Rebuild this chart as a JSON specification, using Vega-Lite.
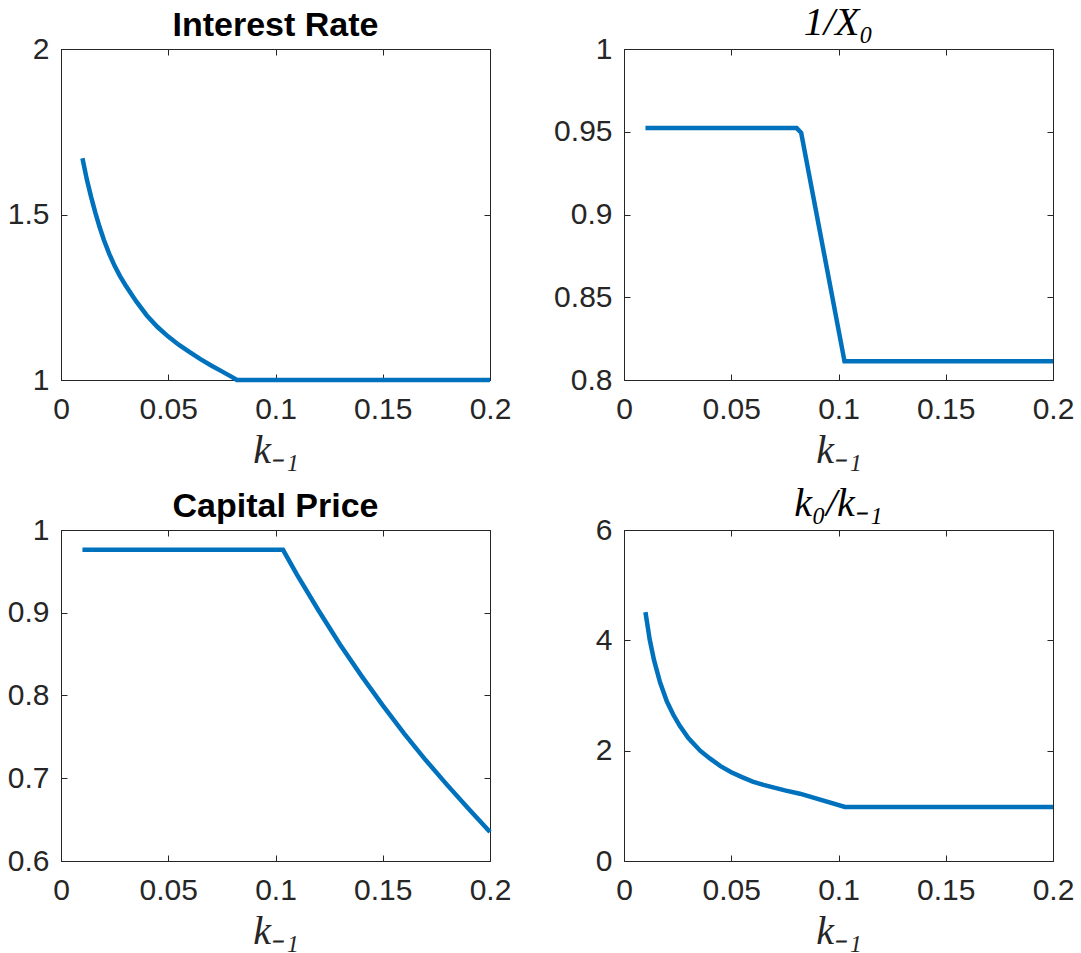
{
  "$schema": "https://vega.github.io/schema/vega-lite/v6.json",
  "background": "white",
  "padding": {"left": 6, "top": 2, "right": 5, "bottom": 5},
  "datasets": {
    "rate": [
      {"k": 0.010, "v": 1.670}, {"k": 0.012, "v": 1.607}, {"k": 0.014, "v": 1.554},
      {"k": 0.016, "v": 1.506}, {"k": 0.018, "v": 1.462}, {"k": 0.020, "v": 1.423},
      {"k": 0.0225, "v": 1.381}, {"k": 0.025, "v": 1.345}, {"k": 0.0275, "v": 1.314},
      {"k": 0.030, "v": 1.287}, {"k": 0.035, "v": 1.238}, {"k": 0.040, "v": 1.195},
      {"k": 0.045, "v": 1.160}, {"k": 0.050, "v": 1.131}, {"k": 0.055, "v": 1.106},
      {"k": 0.060, "v": 1.084}, {"k": 0.065, "v": 1.063}, {"k": 0.070, "v": 1.044},
      {"k": 0.075, "v": 1.026}, {"k": 0.080, "v": 1.008}, {"k": 0.082, "v": 1.000},
      {"k": 0.120, "v": 1.000}, {"k": 0.160, "v": 1.000}, {"k": 0.200, "v": 1.000}
    ],
    "invx": [
      {"k": 0.010, "v": 0.9522}, {"k": 0.040, "v": 0.9522}, {"k": 0.0805, "v": 0.9522},
      {"k": 0.0826, "v": 0.9494}, {"k": 0.1028, "v": 0.8113}, {"k": 0.150, "v": 0.8113},
      {"k": 0.200, "v": 0.8113}
    ],
    "price": [
      {"k": 0.010, "v": 0.976}, {"k": 0.050, "v": 0.976}, {"k": 0.1035, "v": 0.976},
      {"k": 0.110, "v": 0.946}, {"k": 0.120, "v": 0.903}, {"k": 0.130, "v": 0.862},
      {"k": 0.140, "v": 0.824}, {"k": 0.150, "v": 0.788}, {"k": 0.160, "v": 0.754},
      {"k": 0.170, "v": 0.722}, {"k": 0.180, "v": 0.692}, {"k": 0.190, "v": 0.663},
      {"k": 0.200, "v": 0.635}
    ],
    "kratio": [
      {"k": 0.010, "v": 4.51}, {"k": 0.012, "v": 4.01}, {"k": 0.014, "v": 3.64},
      {"k": 0.0168, "v": 3.24}, {"k": 0.020, "v": 2.89}, {"k": 0.023, "v": 2.65},
      {"k": 0.026, "v": 2.45}, {"k": 0.030, "v": 2.23}, {"k": 0.0355, "v": 2.00},
      {"k": 0.040, "v": 1.86}, {"k": 0.045, "v": 1.72}, {"k": 0.050, "v": 1.61},
      {"k": 0.055, "v": 1.52}, {"k": 0.060, "v": 1.44}, {"k": 0.065, "v": 1.38},
      {"k": 0.070, "v": 1.33}, {"k": 0.075, "v": 1.28}, {"k": 0.082, "v": 1.22},
      {"k": 0.103, "v": 0.98}, {"k": 0.150, "v": 0.98}, {"k": 0.200, "v": 0.98}
    ]
  },
  "columns": 2,
  "spacing": {"row": 150, "column": 134},
  "bounds": "flush",
  "concat": [
    {
      "title": {"text": "Interest Rate"},
      "width": 429, "height": 331,
      "data": {"name": "rate"},
      "layer": [
        {
          "mark": {"type": "line", "opacity": 0},
          "encoding": {
            "x": {"field": "k", "type": "quantitative", "scale": {"domain": [0, 0.2]},
                  "axis": {"orient": "top", "values": [0, 0.05, 0.1, 0.15, 0.2], "labels": false, "title": null}},
            "y": {"field": "v", "type": "quantitative", "scale": {"domain": [1, 2]},
                  "axis": {"orient": "right", "values": [1, 1.5, 2], "labels": false, "title": null}}
          }
        },
        {
          "mark": {"type": "line", "color": "#0072BD", "strokeWidth": 4.5},
          "encoding": {
            "x": {"field": "k", "type": "quantitative", "scale": {"domain": [0, 0.2]},
                  "axis": {"orient": "bottom", "values": [0, 0.05, 0.1, 0.15, 0.2], "format": "~g", "title": "k₋₁", "labelPadding": 20}},
            "y": {"field": "v", "type": "quantitative", "scale": {"domain": [1, 2]},
                  "axis": {"orient": "left", "values": [1, 1.5, 2], "format": "~g", "title": null}}
          }
        }
      ],
      "resolve": {"axis": {"x": "independent", "y": "independent"}}
    },
    {
      "title": {"text": "1/X₀", "font": "Liberation Serif", "fontStyle": "italic", "fontWeight": "normal", "fontSize": 40},
      "width": 429, "height": 331,
      "data": {"name": "invx"},
      "layer": [
        {
          "mark": {"type": "line", "opacity": 0},
          "encoding": {
            "x": {"field": "k", "type": "quantitative", "scale": {"domain": [0, 0.2]},
                  "axis": {"orient": "top", "values": [0, 0.05, 0.1, 0.15, 0.2], "labels": false, "title": null}},
            "y": {"field": "v", "type": "quantitative", "scale": {"domain": [0.8, 1]},
                  "axis": {"orient": "right", "values": [0.8, 0.85, 0.9, 0.95, 1], "labels": false, "title": null}}
          }
        },
        {
          "mark": {"type": "line", "color": "#0072BD", "strokeWidth": 4.5},
          "encoding": {
            "x": {"field": "k", "type": "quantitative", "scale": {"domain": [0, 0.2]},
                  "axis": {"orient": "bottom", "values": [0, 0.05, 0.1, 0.15, 0.2], "format": "~g", "title": "k₋₁", "labelPadding": 20}},
            "y": {"field": "v", "type": "quantitative", "scale": {"domain": [0.8, 1]},
                  "axis": {"orient": "left", "values": [0.8, 0.85, 0.9, 0.95, 1], "format": "~g", "title": null}}
          }
        }
      ],
      "resolve": {"axis": {"x": "independent", "y": "independent"}}
    },
    {
      "title": {"text": "Capital Price"},
      "width": 429, "height": 331,
      "data": {"name": "price"},
      "layer": [
        {
          "mark": {"type": "line", "opacity": 0},
          "encoding": {
            "x": {"field": "k", "type": "quantitative", "scale": {"domain": [0, 0.2]},
                  "axis": {"orient": "top", "values": [0, 0.05, 0.1, 0.15, 0.2], "labels": false, "title": null}},
            "y": {"field": "v", "type": "quantitative", "scale": {"domain": [0.6, 1]},
                  "axis": {"orient": "right", "values": [0.6, 0.7, 0.8, 0.9, 1], "labels": false, "title": null}}
          }
        },
        {
          "mark": {"type": "line", "color": "#0072BD", "strokeWidth": 4.5},
          "encoding": {
            "x": {"field": "k", "type": "quantitative", "scale": {"domain": [0, 0.2]},
                  "axis": {"orient": "bottom", "values": [0, 0.05, 0.1, 0.15, 0.2], "format": "~g", "title": "k₋₁", "labelPadding": 20}},
            "y": {"field": "v", "type": "quantitative", "scale": {"domain": [0.6, 1]},
                  "axis": {"orient": "left", "values": [0.6, 0.7, 0.8, 0.9, 1], "format": "~g", "title": null}}
          }
        }
      ],
      "resolve": {"axis": {"x": "independent", "y": "independent"}}
    },
    {
      "title": {"text": "k₀/k₋₁", "font": "Liberation Serif", "fontStyle": "italic", "fontWeight": "normal", "fontSize": 40},
      "width": 429, "height": 331,
      "data": {"name": "kratio"},
      "layer": [
        {
          "mark": {"type": "line", "opacity": 0},
          "encoding": {
            "x": {"field": "k", "type": "quantitative", "scale": {"domain": [0, 0.2]},
                  "axis": {"orient": "top", "values": [0, 0.05, 0.1, 0.15, 0.2], "labels": false, "title": null}},
            "y": {"field": "v", "type": "quantitative", "scale": {"domain": [0, 6]},
                  "axis": {"orient": "right", "values": [0, 2, 4, 6], "labels": false, "title": null}}
          }
        },
        {
          "mark": {"type": "line", "color": "#0072BD", "strokeWidth": 4.5},
          "encoding": {
            "x": {"field": "k", "type": "quantitative", "scale": {"domain": [0, 0.2]},
                  "axis": {"orient": "bottom", "values": [0, 0.05, 0.1, 0.15, 0.2], "format": "~g", "title": "k₋₁", "labelPadding": 20}},
            "y": {"field": "v", "type": "quantitative", "scale": {"domain": [0, 6]},
                  "axis": {"orient": "left", "values": [0, 2, 4, 6], "format": "~g", "title": null}}
          }
        }
      ],
      "resolve": {"axis": {"x": "independent", "y": "independent"}}
    }
  ],
  "config": {
    "view": {"stroke": "#262626", "strokeWidth": 1},
    "axis": {
      "grid": false,
      "domainColor": "#262626",
      "domainWidth": 1,
      "tickColor": "#262626",
      "tickWidth": 1,
      "tickSize": -6,
      "labelFont": "Liberation Sans",
      "labelFontSize": 30,
      "labelColor": "#262626",
      "labelPadding": 18,
      "labelFlush": false,
      "labelOverlap": false,
      "labelBound": false,
      "titleFont": "Liberation Serif",
      "titleFontStyle": "italic",
      "titleFontWeight": "normal",
      "titleFontSize": 40,
      "titleColor": "#262626",
      "titlePadding": 6
    },
    "title": {
      "font": "Liberation Sans",
      "fontSize": 34,
      "fontWeight": "bold",
      "color": "#000000",
      "anchor": "middle",
      "offset": -9
    }
  }
}
